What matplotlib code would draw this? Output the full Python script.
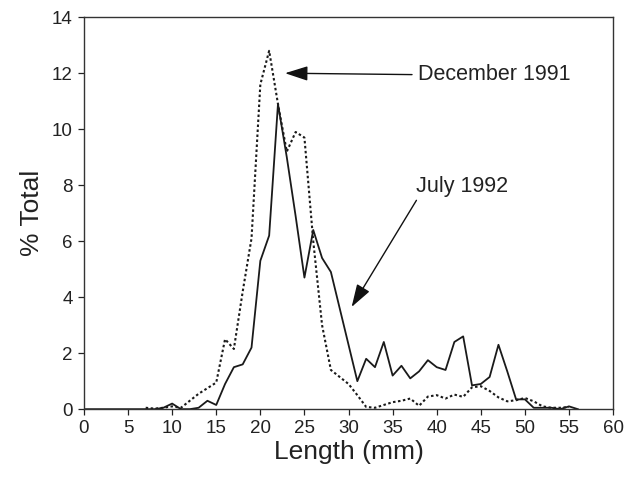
import numpy as np
import matplotlib.pyplot as plt

plt.rcParams['font.family'] = ['Liberation Sans', 'DejaVu Sans']

# longueur (mm) et % total
length = list(range(0, 57))
july_1992 = [0, 0, 0, 0, 0, 0, 0, 0, 0, 0.05,
             0.2, 0, 0, 0.05, 0.3, 0.15, 0.9, 1.5, 1.6, 2.2,
             5.3, 6.2, 10.9, 9.0, 6.9, 4.7, 6.4, 5.4, 4.9, 3.6,
             2.3, 1.0, 1.8, 1.5, 2.4, 1.2, 1.55, 1.1, 1.35, 1.75,
             1.5, 1.4, 2.4, 2.6, 0.85, 0.9, 1.15, 2.3, 1.35, 0.35,
             0.35, 0.05, 0.05, 0.05, 0, 0.1, 0]
dec_1991 = [None] * 7 + [0.05, 0.02, 0.05,
            0.1, 0.05, 0.3, 0.55, 0.75, 0.95, 2.5, 2.15, 4.2, 6.1,
            11.6, 12.8, 10.9, 9.2, 9.9, 9.7, 6.0, 3.0, 1.4, 1.15,
            0.9, 0.5, 0.08, 0.05, 0.15, 0.25, 0.3, 0.38, 0.12, 0.45,
            0.5, 0.38, 0.52, 0.44, 0.78, 0.82, 0.65, 0.42, 0.28, 0.32,
            0.4, 0.28, 0.1, 0.05, 0.05, 0.08]
dec_x = length[:len(dec_1991)]
dec_y = np.array([np.nan if v is None else v for v in dec_1991])

fig = plt.figure(figsize=(6.36, 4.78), dpi=100)
ax = fig.add_axes([0.132, 0.144, 0.832, 0.82])

ax.plot(length, july_1992, color='#1a1a1a', lw=1.3)
ax.plot(dec_x, dec_y, color='#1a1a1a', lw=1.5, linestyle=(0, (1.2, 1.2)))

ax.set_xlim(0, 60)
ax.set_ylim(0, 14)
ax.set_xticks(np.arange(0, 61, 5))
ax.set_yticks(np.arange(0, 15, 2))
ax.tick_params(direction='out', length=4.5, width=0.9, labelsize=13.5, colors='#222222')
for s in ax.spines.values():
    s.set_color('#333333')
    s.set_linewidth(1.0)

ax.set_xlabel('Length (mm)', fontsize=19, color='#222222', labelpad=2)
ax.set_ylabel('% Total', fontsize=19, color='#222222', labelpad=6)

#fleches d'annotation
arrow = dict(arrowstyle='-|>,head_length=1.4,head_width=0.45', color='#111111', lw=1.0, shrinkA=0, shrinkB=0)
ax.annotate('', xy=(22.8, 12.0), xytext=(37.2, 11.95), arrowprops=arrow)
ax.text(37.9, 11.95, 'December 1991', fontsize=15.5, va='center', ha='left', color='#222222')
ax.annotate('', xy=(30.35, 3.65), xytext=(37.7, 7.46), arrowprops=arrow)
ax.text(42.9, 7.95, 'July 1992', fontsize=15.5, va='center', ha='center', color='#222222')

fig.savefig('out.png', dpi=100)
